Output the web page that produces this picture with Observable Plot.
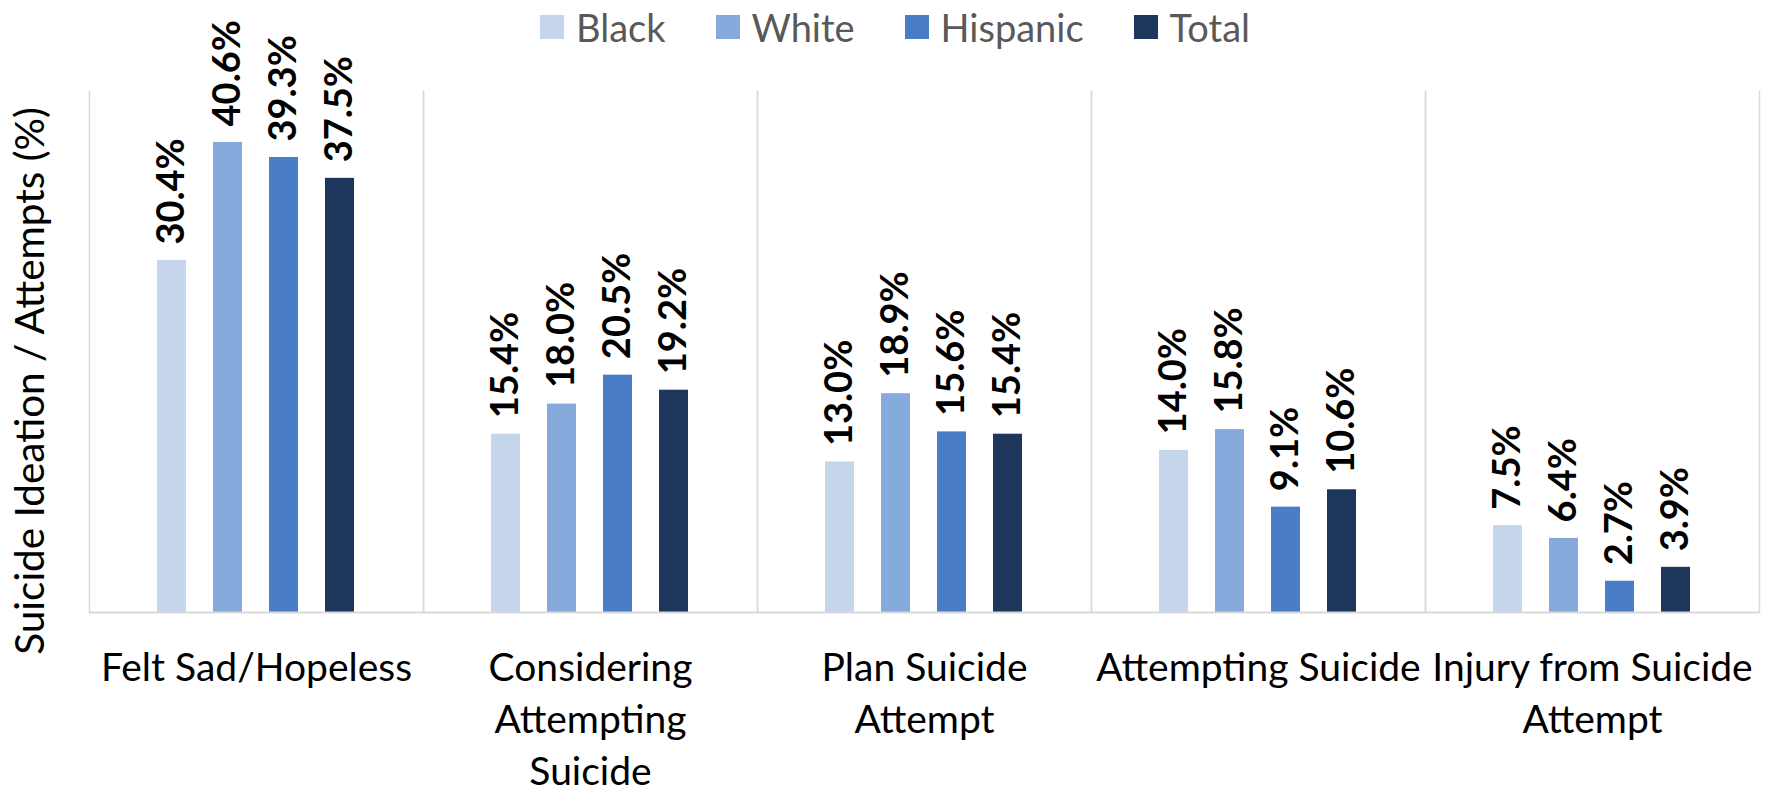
<!DOCTYPE html>
<html>
<head>
<meta charset="utf-8">
<script src="https://cdn.jsdelivr.net/npm/d3@7"></script>
<script src="https://cdn.jsdelivr.net/npm/@observablehq/plot@0.6"></script>
<style>
  html, body { margin: 0; padding: 0; background: #fff; }
  #wrap { width: 1768px; height: 793px; position: relative; overflow: hidden; font-family: Lato, sans-serif; }
  #legend { height: 54px; position: relative; display: flex; align-items: center; padding-left: 540px; gap: 50px; box-sizing: border-box; margin-bottom: 2px; }
  .item { display: flex; align-items: center; gap: 12px; font-size: 38px; color: #595959; line-height: 1; }
  .sw { width: 24px; height: 24px; display: inline-block; }
  #chart svg { overflow: visible !important; }
</style>
</head>
<body>
<div id="wrap">
  <div id="legend"></div>
  <div id="chart"></div>
</div>
<script>
const categories = ["Felt Sad/Hopeless", "Considering Attempting Suicide", "Plan Suicide Attempt", "Attempting Suicide", "Injury from Suicide Attempt"];
const tickLabels = ["Felt Sad/Hopeless", "Considering\nAttempting\nSuicide", "Plan Suicide\nAttempt", "Attempting Suicide", "Injury from Suicide\nAttempt"];
const series = ["Black", "White", "Hispanic", "Total"];
const colors = ["#C4D5EC", "#87AADC", "#4A7DC8", "#1D365C"];
const black = [30.4, 15.4, 13.0, 14.0, 7.5];
const white = [40.6, 18.0, 18.9, 15.8, 6.4];
const hispanic = [39.3, 20.5, 15.6, 9.1, 2.7];
const total = [37.5, 19.2, 15.4, 10.6, 3.9];
const yLabel = "Suicide Ideation / Attempts (%)";

const valuesBySeries = [black, white, hispanic, total];
const data = [];
categories.forEach((c, i) => {
  series.forEach((s, j) => data.push({category: c, series: s, value: valuesBySeries[j][i]}));
});

// Legend
const legend = document.getElementById("legend");
series.forEach((s, j) => {
  const it = document.createElement("div");
  it.className = "item";
  const sw = document.createElement("span");
  sw.className = "sw";
  sw.style.background = colors[j];
  const tx = document.createElement("span");
  tx.textContent = s;
  it.appendChild(sw); it.appendChild(tx);
  legend.appendChild(it);
});

const grid = "#D9D9D9";
const chart = Plot.plot({
  width: 1768,
  height: 737,
  marginTop: 35,
  marginBottom: 181,
  marginLeft: 87,
  marginRight: 8,
  style: {fontFamily: "Lato, sans-serif", color: "#000", background: "transparent", overflow: "visible"},
  fx: {domain: categories, padding: 0, label: null},
  x: {domain: series, paddingInner: 0.474, paddingOuter: 1.17, axis: null},
  y: {domain: [0, 45], axis: null},
  color: {domain: series, range: colors},
  marks: [
    Plot.frame({anchor: "left", stroke: grid, strokeWidth: 1.5}),
    Plot.frame({anchor: "right", stroke: grid, strokeWidth: 1.5}),
    Plot.barY(data, {fx: "category", x: "series", y: "value", fill: "series"}),
    Plot.ruleY([0], {stroke: grid, strokeWidth: 2}),
    Plot.text(data, {
      fx: "category", x: "series", y: "value",
      text: d => d.value.toFixed(1) + "%",
      rotate: -90, textAnchor: "start", lineAnchor: "middle",
      dy: -16, fontWeight: "bold", fontSize: 38, fill: "#000"
    }),
    Plot.text([yLabel], {
      fx: () => categories[0],
      frameAnchor: "left", text: d => d,
      rotate: -90, textAnchor: "middle", lineAnchor: "middle",
      dx: -58, dy: 29, fontSize: 40.5, fill: "#000"
    }),
    Plot.axisFx({
      anchor: "bottom", tickSize: 0, tickPadding: 32, label: null,
      fontSize: 39, lineHeight: 1.33, fill: "#000",
      tickFormat: d => tickLabels[categories.indexOf(d)]
    })
  ]
});
document.getElementById("chart").appendChild(chart);
</script>
</body>
</html>
